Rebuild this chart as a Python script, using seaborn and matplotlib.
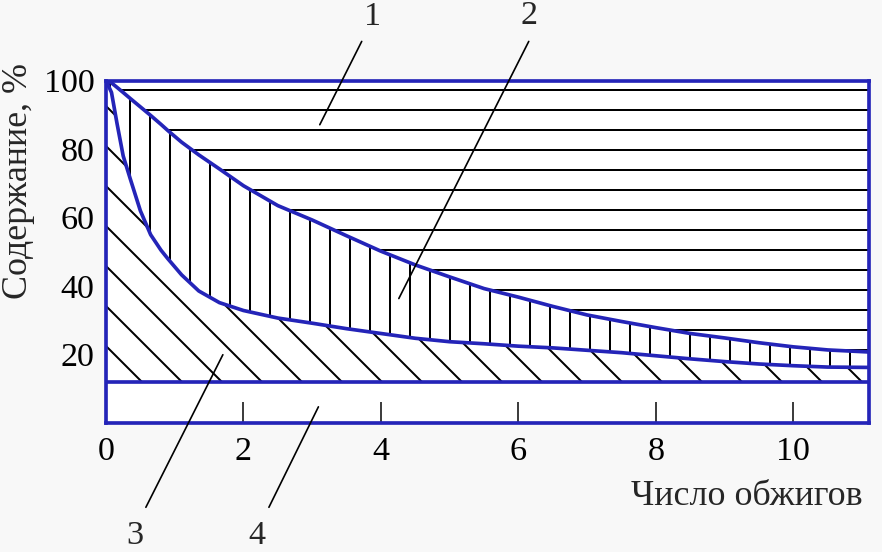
import numpy as np
import pandas as pd
import matplotlib
matplotlib.use("Agg")
import matplotlib.pyplot as plt
import seaborn as sns

# ---- data ----
firings = [0, 0.08, 0.16, 0.25, 0.35, 0.5, 0.65, 0.8, 0.9, 1.1, 1.35, 1.65, 2.0, 2.5,
           3.0, 3.5, 4.0, 4.5, 5.0, 5.5, 6.0, 6.5, 7.0, 7.5, 8.0, 8.5, 9.0,
           9.5, 10.0, 10.5, 11.1]
upper_pct = [100, 99.3, 98.0, 96.5, 94.8, 92.3, 89.8, 87.2, 85.4, 82.0, 78.3, 74.2,
             69.3, 63.5, 59.3, 54.7, 50.2, 46.2, 42.7, 39.3, 36.8, 34.1, 31.6,
             29.7, 27.9, 26.2, 24.9, 23.5, 22.3, 21.4, 20.8]
lower_pct = [100, 96.5, 87.5, 78.0, 71.5, 62.0, 55.0, 50.5, 48.0, 43.3, 38.6, 35.2,
             32.9, 30.7, 29.2, 27.6, 26.2, 24.8, 23.8, 23.2, 22.5, 22.0, 21.3,
             20.6, 19.7, 18.8, 18.0, 17.3, 16.8, 16.4, 16.3]
floor_pct = 12
x_ticks = [0, 2, 4, 6, 8, 10]
y_ticks = [20, 40, 60, 80, 100]
x_label = "Число обжигов"
y_label = "Содержание, %"
zone_labels = ["1", "2", "3", "4"]
zone_label_xy = [(3.88, 118.7), (6.16, 119.0), (0.42, -32.7), (2.19, -32.7)]
leader_from = [(3.72, 111.4), (6.15, 111.4), (0.58, -24.5), (2.37, -24.5)]
leader_to = [(3.11, 87.1), (4.26, 36.4), (1.70, 20.0), (3.09, 4.8)]

# ---- style ----
sns.set_style("white")
plt.rcParams["font.family"] = ["Liberation Serif", "DejaVu Serif"]
plt.rcParams["hatch.linewidth"] = 1.2

BLUE = "#2424b8"
FS = 20.5
FS_LAB = 21.5
LW = 2.2

fig = plt.figure(figsize=(7.35, 4.6), dpi=120, facecolor="#f8f8f8")
ax = fig.add_axes([106 / 882, (552 - 423.3) / 552, (869 - 106) / 882, (423.3 - 80.5) / 552])
ax.set_facecolor("white")

df = pd.DataFrame({"x": firings, "upper": upper_pct, "lower": lower_pct})
top = y_ticks[-1]

ax.fill_between(df["x"], df["upper"], top, facecolor="white", edgecolor="black",
                hatch="-", linewidth=0)
ax.fill_between(df["x"], df["lower"], df["upper"], facecolor="white", edgecolor="black",
                hatch="|", linewidth=0)
ax.fill_between(df["x"], floor_pct, df["lower"], facecolor="white", edgecolor="black",
                hatch="\\", linewidth=0)

sns.lineplot(data=df, x="x", y="upper", color=BLUE, lw=LW, ax=ax)
sns.lineplot(data=df, x="x", y="lower", color=BLUE, lw=LW, ax=ax)
ax.axhline(floor_pct, color=BLUE, lw=LW)

ax.set_xlim(0, 11.1)
ax.set_ylim(0, top)
ax.set_xticks(x_ticks)
ax.set_yticks(y_ticks)
ax.set_xticklabels([str(t) for t in x_ticks])
ax.set_yticklabels([str(t) for t in y_ticks])

for s in ax.spines.values():
    s.set_visible(True)
    s.set_color(BLUE)
    s.set_linewidth(LW)

ax.tick_params(axis="both", direction="in", color="black", width=0.9,
               labelsize=FS, labelcolor="black", bottom=True, left=True)
ax.tick_params(axis="x", length=12.5, pad=8)
ax.tick_params(axis="y", length=15, pad=7)

ax.set_xlabel(x_label, fontsize=FS_LAB, loc="right")
ax.xaxis.set_label_coords(0.991, -0.165)
ax.xaxis.label.set_va("top")
ax.set_ylabel(y_label, fontsize=FS_LAB, loc="top")
ax.yaxis.set_label_coords(-0.0935, 1.05)

for lab, (tx, ty), p0, p1 in zip(zone_labels, zone_label_xy, leader_from, leader_to):
    ax.text(tx, ty, lab, fontsize=FS, ha="center", va="center", clip_on=False)
    ax.annotate("", xy=p1, xytext=p0, xycoords="data", textcoords="data",
                annotation_clip=False,
                arrowprops=dict(arrowstyle="-", color="black", lw=1.0,
                                shrinkA=0, shrinkB=0))

fig.savefig("out.png", dpi=120, facecolor=fig.get_facecolor())
